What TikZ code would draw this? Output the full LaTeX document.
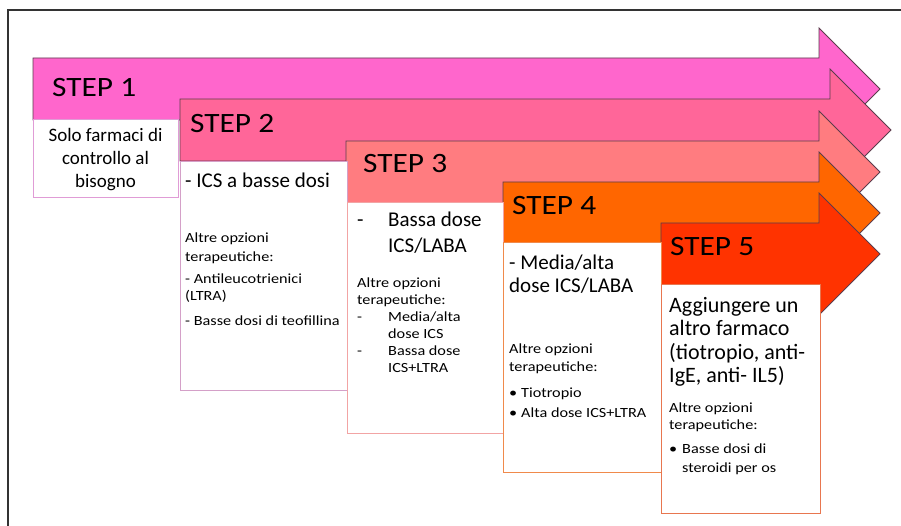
\documentclass[tikz,border=0pt]{standalone}
\usepackage{fontspec}
\setmainfont{Carlito}
\newfontfamily\optfont{Carlito}[FakeStretch=1.16]
\newfontfamily\labelfont{Carlito}[FakeStretch=1.12]
\usetikzlibrary{positioning}

\definecolor{stepone}{HTML}{FF66CC}
\definecolor{steptwo}{HTML}{FF6699}
\definecolor{stepthree}{HTML}{FF7C80}
\definecolor{stepfour}{HTML}{FF6600}
\definecolor{stepfive}{HTML}{FF3300}
\definecolor{arrowline}{HTML}{5C3C4C}
\definecolor{boxone}{HTML}{E09CD6}
\definecolor{boxtwo}{HTML}{D4A0C8}
\definecolor{boxthree}{HTML}{F2A4A4}
\definecolor{boxfour}{HTML}{F08A4B}
\definecolor{boxfive}{HTML}{E8764F}

\tikzset{
    steparrow/.style={draw=arrowline, line width=0.8pt, line join=miter},
    stepbox/.style={fill=white, line width=1pt},
    steplabel/.style={anchor=base west, inner sep=0pt, font=\labelfont\fontsize{28}{30}\selectfont},
    maintext/.style={anchor=base west, inner sep=0pt, align=left},
    opttext/.style={anchor=base west, inner sep=0pt, align=left}
}

\begin{document}
\begin{tikzpicture}[x=1pt, y=-1pt]
        \useasboundingbox (0,0) rectangle (901,526);

        % Frame
        \draw[line width=1.2pt, black!80] (901,10) -- (8,10) -- (8,526);

        % Arrows, one per step
        \foreach \lx/\ty/\ex/\col in {33/58/819/stepone, 180/99/830/steptwo,
                346/141/819/stepthree, 503/182/819/stepfour, 661/223/819/stepfive}
            \draw[steparrow, fill=\col] (\lx,\ty) -- (\ex,\ty) -- (\ex,\ty-30)
                -- (\ex+61,\ty+31) -- (\ex,\ty+92) -- (\ex,\ty+62)
                -- (\lx,\ty+62) -- cycle;

        % Step labels
        \node[steplabel] (step1) at (52,97) {STEP 1};
        \node[steplabel] (step2) at (190,133) {STEP 2};
        \node[steplabel] (step3) at (363,173) {STEP 3};
        \node[steplabel] (step4) at (512,215) {STEP 4};
        \node[steplabel] (step5) at (670,256) {STEP 5};

        % Boxes under the arrows
        \draw[stepbox, draw=boxone] (33,120) rectangle (178,198);
        \draw[stepbox, draw=boxtwo] (180,162) rectangle (347,390);
        \draw[stepbox, draw=boxthree] (347,203) rectangle (503,433);
        \draw[stepbox, draw=boxfour] (503,243) rectangle (661,472);
        \draw[stepbox, draw=boxfive] (661,285) rectangle (820,513);

        % Texts: multi-line nodes sit on their last line
        % Step 1
        \node[anchor=base, inner sep=0pt, align=center,
            font=\fontsize{19}{23}\selectfont] (main1) at (105.5,188)
            {Solo farmaci di\\controllo al\\bisogno};

        % Step 2
        \node[maintext, font=\fontsize{21}{24}\selectfont] (main2) at (185,188)
            {- ICS a basse dosi};
        \node[opttext, font=\optfont\fontsize{14}{18}\selectfont] (opt2) at (185,325)
            {Altre opzioni\\terapeutiche:\\[4pt]- Antileucotrienici\\(LTRA)\\[6pt]- Basse dosi di teofillina};

        % Step 3
        \node[maintext, font=\fontsize{21}{26}\selectfont] (main3) at (357,253)
            {\makebox[31pt][l]{-}Bassa dose\\\hspace*{31pt}ICS/LABA};
        \node[opttext, font=\optfont\fontsize{14}{17}\selectfont] (opt3) at (357,372)
            {Altre opzioni\\terapeutiche:\\\makebox[31pt][l]{-}Media/alta\\\hspace*{31pt}dose ICS\\\makebox[31pt][l]{-}Bassa dose\\\hspace*{31pt}ICS+LTRA};

        % Step 4
        \node[maintext, font=\fontsize{21}{22}\selectfont] (main4) at (509,292)
            {- Media/alta\\dose ICS/LABA};
        \node[opttext, font=\optfont\fontsize{14}{18}\selectfont] (opt4) at (509,417)
            {Altre opzioni\\terapeutiche:\\[8pt]\makebox[12pt][l]{\textbullet}Tiotropio\\[2pt]\makebox[12pt][l]{\textbullet}Alta dose ICS+LTRA};

        % Step 5
        \node[maintext, font=\fontsize{22}{23.5}\selectfont] (main5) at (669,382.5)
            {Aggiungere un\\altro farmaco\\(tiotropio, anti-\\IgE, anti- IL5)};
        \node[opttext, font=\optfont\fontsize{14}{17}\selectfont] (opt5) at (669,472)
            {Altre opzioni\\terapeutiche:\\[7pt]\makebox[13pt][l]{\textbullet}Basse dosi di\\[2pt]\hspace*{13pt}steroidi per os};
    \end{tikzpicture}
\end{document}
